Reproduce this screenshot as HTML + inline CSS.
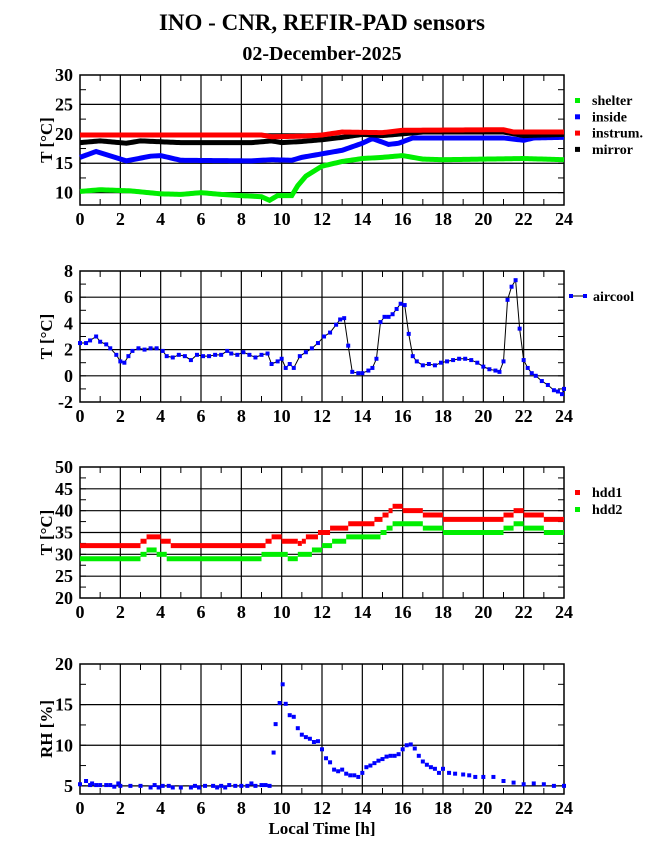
<!DOCTYPE html>
<html><head><meta charset="utf-8"><style>
body{margin:0;background:#fff}
svg text{font-family:"Liberation Serif",serif;font-weight:bold;fill:#000}
</style></head><body>
<svg id="s" width="655" height="860" xmlns="http://www.w3.org/2000/svg"></svg>
<script>
const S=document.getElementById('s');let h='';
const X0=80,X1=564,X=t=>X0+t*(X1-X0)/24;
h+='<text x="322" y="30" font-size="23" text-anchor="middle">INO - CNR, REFIR-PAD sensors</text>';
h+='<text x="322" y="60" font-size="20" text-anchor="middle">02-December-2025</text>';
function panel(top,bot,vmin,vmax,major,minor,label,labelY){
 const Y=v=>bot-(v-vmin)*(bot-top)/(vmax-vmin);
 for(let t=2;t<24;t+=2)h+=`<line x1="${X(t)}" x2="${X(t)}" y1="${top}" y2="${bot}" stroke="#000" stroke-width="1.2"/>`;
 for(let t=1;t<24;t+=2){h+=`<line x1="${X(t)}" x2="${X(t)}" y1="${top}" y2="${top+6}" stroke="#000"/><line x1="${X(t)}" x2="${X(t)}" y1="${bot}" y2="${bot-6}" stroke="#000"/>`;}
 for(let v=Math.ceil(vmin/major)*major;v<=vmax;v+=major){const y=Y(v);if(v>vmin&&v<vmax)h+=`<line x1="${X0}" x2="${X1}" y1="${y}" y2="${y}" stroke="#000" stroke-width="1.2"/>`;h+=`<text x="73" y="${y+6}" font-size="18" text-anchor="end">${v}</text>`;}
 for(let v=Math.ceil(vmin/minor)*minor;v<vmax;v+=minor){const y=Y(v);h+=`<line x1="${X0}" x2="${X0+6}" y1="${y}" y2="${y}" stroke="#000"/><line x1="${X1}" x2="${X1-6}" y1="${y}" y2="${y}" stroke="#000"/>`;}
 h+=`<rect x="${X0}" y="${top}" width="${X1-X0}" height="${bot-top}" fill="none" stroke="#000" stroke-width="1.5"/>`;
 for(let t=0;t<=24;t+=2)h+=`<text x="${X(t)}" y="${bot+20}" font-size="18" text-anchor="middle">${t}</text>`;
 h+=`<text transform="translate(${labelY},${(top+bot)/2}) rotate(-90)" font-size="17" text-anchor="middle">${label}</text>`;
 return Y;
}
function interp(pts,step){const o=[];for(let i=0;i<pts.length-1;i++){const[a,va]=pts[i],[b,vb]=pts[i+1];for(let t=a;t<b;t+=step)o.push([t,va+(vb-va)*(t-a)/(b-a)]);}o.push(pts[pts.length-1]);return o;}
function sq(pts,Y,c,s){pts.forEach(([t,v])=>{h+=`<rect x="${X(t)-s/2}" y="${Y(v)-s/2}" width="${s}" height="${s}" fill="${c}"/>`});}
function line(pts,Y,c,w){h+=`<polyline fill="none" stroke="${c}" stroke-width="${w}" points="${pts.map(([t,v])=>X(t)+','+Y(v)).join(' ')}"/>`;}
let Y1=panel(75,205,7.9,30,5,2.5,'T [°C]',52);
const red=[[0,19.8],[9,19.8],[9.5,19.5],[11,19.6],[12,19.8],[13,20.3],[15,20.2],[16,20.6],[21,20.7],[21.5,20.3],[24,20.3]];
const blk=[[0,18.5],[1,18.8],[2.3,18.4],[3,18.8],[5,18.5],[8.5,18.5],[9.5,18.8],[10,18.5],[11,18.7],[12,19.0],[13,19.4],[14,19.9],[15,19.7],[16,20.0],[17,20.3],[21,20.3],[22,19.7],[24,19.9]];
const blu=[[0,16],[0.8,17],[2.3,15.4],[3.5,16.2],[4,16.3],[5,15.5],[8.5,15.4],[9.5,15.6],[10.5,15.5],[11,16],[12,16.6],[13,17.2],[14,18.4],[14.5,19.2],[15.3,18.2],[15.8,18.4],[16.5,19.3],[21,19.3],[22,18.9],[22.5,19.3],[24,19.4]];
const grn=[[0,10.2],[1,10.5],[2.5,10.3],[4,9.8],[5,9.7],[6,10],[7,9.7],[9,9.3],[9.4,8.7],[9.8,9.5],[10.5,9.5],[10.8,11.2],[11.2,12.8],[12,14.5],[13,15.3],[14,15.8],[15,16],[16,16.3],[17,15.7],[18,15.6],[20,15.7],[22,15.8],[24,15.6]];
[[grn,'#00ee00'],[blu,'#0000ff'],[blk,'#000'],[red,'#ff0000']].forEach(([p,c])=>line(interp(p,0.1),Y1,c,5));
[['shelter','#00ee00'],['inside','#0000ff'],['instrum.','#ff0000'],['mirror','#000']].forEach(([n,c],i)=>{const y=100+i*16.3;h+=`<rect x="575" y="${y-2}" width="5" height="5" fill="${c}"/><text x="592" y="${y+5}" font-size="14">${n}</text>`;});
let Y2=panel(271,402,-2,8,2,1,'T [°C]',52);
const air=[[0,2.5],[0.3,2.5],[0.5,2.7],[0.8,3],[1,2.6],[1.3,2.4],[1.5,2.1],[1.8,1.6],[2,1.1],[2.2,1],[2.4,1.5],[2.6,1.9],[2.9,2.1],[3.2,2],[3.5,2.1],[3.8,2.1],[4.1,1.9],[4.3,1.5],[4.6,1.4],[4.9,1.6],[5.2,1.5],[5.5,1.2],[5.8,1.6],[6.1,1.5],[6.4,1.5],[6.7,1.6],[7,1.6],[7.3,1.9],[7.5,1.7],[7.8,1.6],[8.1,1.8],[8.4,1.6],[8.7,1.4],[9,1.6],[9.3,1.7],[9.5,0.9],[9.8,1.1],[10,1.3],[10.2,0.6],[10.4,0.9],[10.6,0.6],[10.9,1.5],[11.2,1.8],[11.5,2.1],[11.8,2.5],[12.1,3],[12.4,3.3],[12.7,3.9],[12.9,4.3],[13.1,4.4],[13.3,2.3],[13.5,0.3],[13.8,0.2],[14,0.2],[14.3,0.4],[14.5,0.6],[14.7,1.3],[14.9,4.1],[15.1,4.5],[15.3,4.5],[15.5,4.7],[15.7,5.1],[15.9,5.5],[16.1,5.4],[16.3,3.2],[16.5,1.5],[16.7,1.1],[17,0.8],[17.3,0.9],[17.6,0.8],[17.9,1],[18.2,1.1],[18.5,1.2],[18.8,1.3],[19.1,1.3],[19.4,1.2],[19.7,1],[20,0.7],[20.3,0.5],[20.6,0.4],[20.8,0.3],[21,1.1],[21.2,5.8],[21.4,6.8],[21.6,7.3],[21.8,3.6],[22,1.2],[22.2,0.6],[22.4,0.2],[22.6,0],[22.9,-0.4],[23.2,-0.7],[23.5,-1.1],[23.7,-1.2],[23.9,-1.4],[24,-1]];
line(air,Y2,'#000',1);sq(air,Y2,'#0000ff',4);
h+=`<line x1="571" x2="585" y1="296" y2="296" stroke="#000"/><rect x="569" y="294" width="4" height="4" fill="#0000ff"/><rect x="583" y="294" width="4" height="4" fill="#0000ff"/><text x="593" y="301" font-size="14">aircool</text>`;
let Y3=panel(467,598,20,50,5,2.5,'T [°C]',52);
function steps(p,c){for(let i=0;i<p.length-1;i++){h+=`<line x1="${X(p[i][0])}" x2="${X(p[i+1][0])}" y1="${Y3(p[i][1])}" y2="${Y3(p[i][1])}" stroke="${c}" stroke-width="5"/>`;}}
steps([[0,32],[3,33],[3.3,34],[4,33],[4.5,32],[9.2,33],[9.5,34],[10,33],[10.8,32.5],[11,33],[11.2,34],[11.8,35],[12.4,36],[13.3,37],[14.6,38],[15,39],[15.3,40],[15.5,41],[16,40],[17,39],[18,38],[21,39],[21.5,40],[22,39],[23,38],[24,38]],'#ff0000');
steps([[0,29],[3,30],[3.3,31],[3.8,30],[4.3,29],[9,30],[10.3,29],[10.8,30],[11.5,31],[12,32],[12.5,33],[13.2,34],[14.9,35],[15.2,36],[15.5,37],[17,36],[18,35],[21,36],[21.5,37],[22,36],[23,35],[24,35]],'#00ee00');
h+=`<rect x="575" y="490" width="5" height="5" fill="#ff0000"/><text x="592" y="497" font-size="14">hdd1</text><rect x="575" y="507" width="5" height="5" fill="#00ee00"/><text x="592" y="514" font-size="14">hdd2</text>`;
let Y4=panel(664,794,4,20,5,2.5,'RH [%]',52);
const rh=[[0,5.2],[0.3,5.6],[0.5,5.1],[0.6,5.3],[0.8,5.1],[1,5.1],[1.3,5.1],[1.5,5.1],[1.7,4.9],[1.9,5.3],[2,5],[2.5,5],[3,5],[3.5,4.8],[3.7,5.1],[3.9,4.8],[4.1,5],[4.4,5],[4.6,4.8],[5,4.8],[5.5,4.8],[5.7,5],[5.9,4.8],[6.2,5],[6.6,5],[6.8,4.8],[7,5],[7.2,4.8],[7.4,5.1],[7.7,5],[8,5],[8.3,5],[8.5,5.3],[8.7,5],[9,5.1],[9.2,5.1],[9.4,5],[9.6,9.1],[9.7,12.6],[9.9,15.2],[10.05,17.5],[10.2,15.1],[10.4,13.7],[10.6,13.5],[10.8,12.1],[11,11.3],[11.2,11],[11.4,10.8],[11.6,10.4],[11.8,10.5],[12,9.5],[12.2,8.4],[12.4,7.9],[12.6,7],[12.8,6.8],[13,7],[13.2,6.5],[13.4,6.3],[13.6,6.3],[13.8,6.1],[14,6.6],[14.2,7.3],[14.4,7.5],[14.6,7.8],[14.8,8.1],[15,8.3],[15.2,8.6],[15.4,8.7],[15.6,8.7],[15.8,8.9],[16,9.5],[16.2,10],[16.4,10.1],[16.6,9.6],[16.8,8.7],[17,8],[17.2,7.6],[17.4,7.3],[17.6,7.1],[17.8,6.6],[18,7.1],[18.3,6.6],[18.6,6.5],[19,6.4],[19.3,6.3],[19.6,6.1],[20,6.1],[20.5,6.1],[21,5.6],[21.5,5.4],[22,5.2],[22.5,5.3],[23,5.2],[23.5,5],[24,5]];
sq(rh,Y4,'#0000ff',4);
h+='<text x="322" y="834" font-size="17" text-anchor="middle">Local Time [h]</text>';
S.innerHTML=h;
</script>
</body></html>
